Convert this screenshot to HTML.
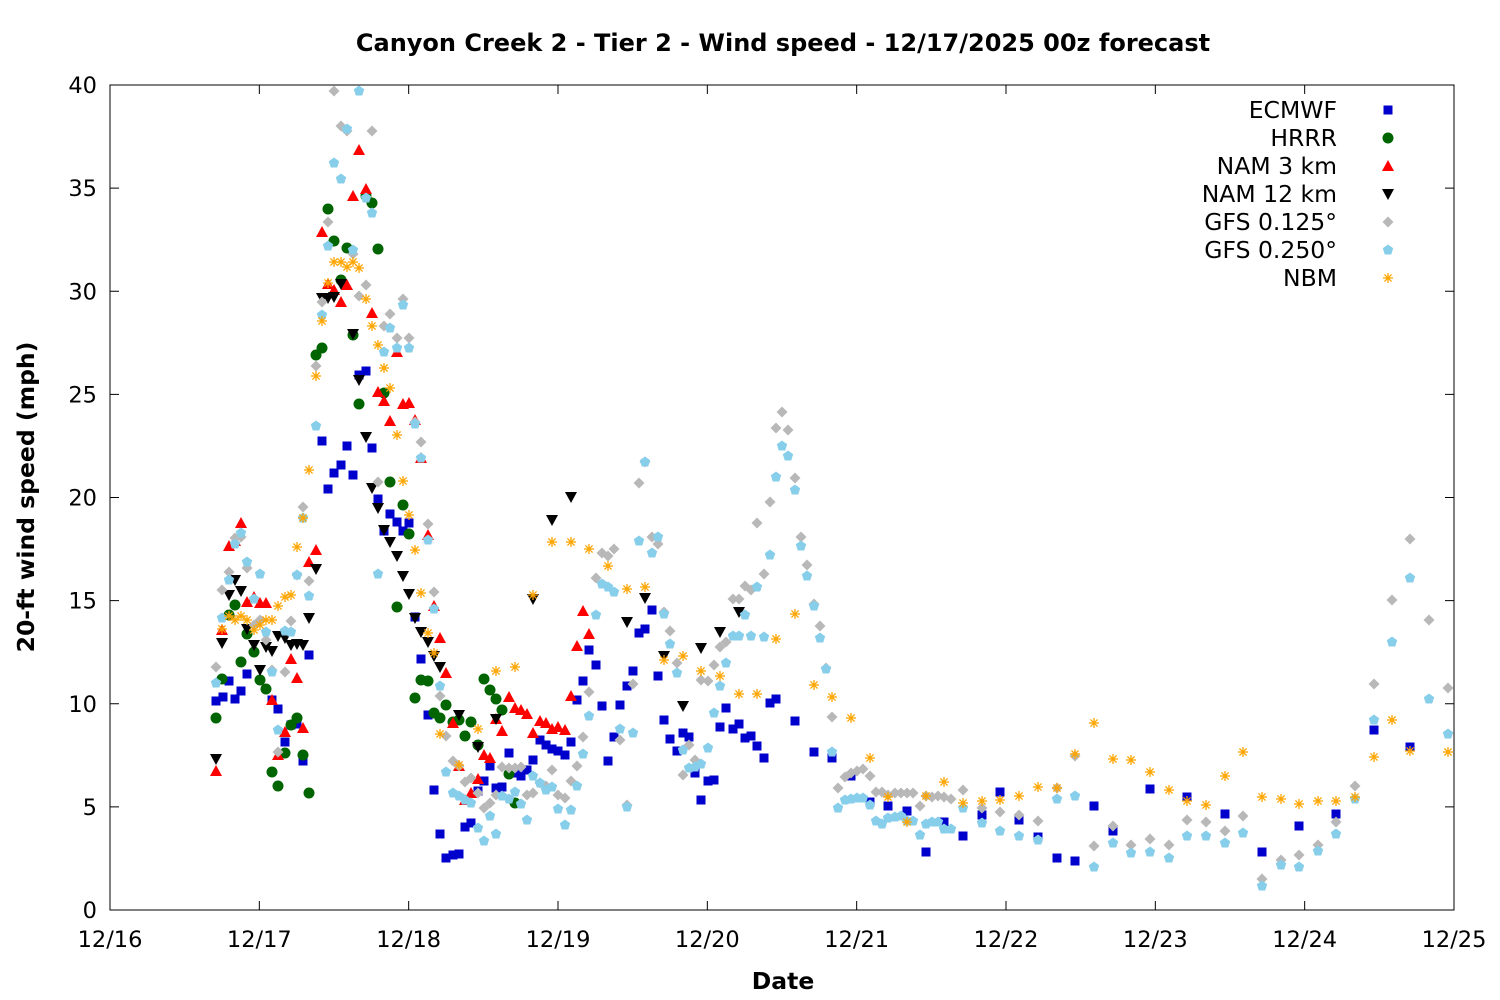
<!DOCTYPE html>
<html><head><meta charset="utf-8"><style>
html,body{margin:0;padding:0;background:#fff;}
svg{display:block;font-family:"DejaVu Sans","Liberation Sans",sans-serif;}
</style></head><body>
<svg id="s" width="1500" height="1000" xmlns="http://www.w3.org/2000/svg">
<rect width="1500" height="1000" fill="#fff"/>
<text x="783" y="51" text-anchor="middle" font-size="24" font-weight="bold">Canyon Creek 2 - Tier 2 - Wind speed - 12/17/2025 00z forecast</text>
<text x="783" y="989" text-anchor="middle" font-size="23.5" font-weight="bold">Date</text>
<text transform="translate(34,497) rotate(-90)" text-anchor="middle" font-size="23.5" font-weight="bold">20-ft wind speed (mph)</text>
<g id="ax"></g>
<g id="pts"></g>
<g id="leg" font-size="23.5" text-anchor="end"></g>
<rect x="110" y="85" width="1344" height="825" fill="none" stroke="#000" stroke-width="1"/>
</svg>
<script>
var NS="http://www.w3.org/2000/svg";
function el(t,a,p,txt){var e=document.createElementNS(NS,t);for(var k in a)e.setAttribute(k,a[k]);if(txt!=null)e.textContent=txt;p.appendChild(e);return e;}
var ax=document.getElementById('ax');
for(var v=0;v<=40;v+=5){var y=910-v*20.625;
el('line',{x1:110,y1:y,x2:119,y2:y,stroke:'#000'},ax);el('line',{x1:1445,y1:y,x2:1454,y2:y,stroke:'#000'},ax);
el('text',{x:97,y:y+8,'text-anchor':'end','font-size':22.5},ax,v);}
var days=['12/16','12/17','12/18','12/19','12/20','12/21','12/22','12/23','12/24','12/25'];
for(var i=0;i<10;i++){var x=110+i*149.333;
el('line',{x1:x,y1:910,x2:x,y2:901,stroke:'#000'},ax);el('line',{x1:x,y1:85,x2:x,y2:94,stroke:'#000'},ax);
el('text',{x:x,y:947,'text-anchor':'middle','font-size':22.5},ax,days[i]);}
function P(s){return s.trim().split(/\)\s*,\s*\(/).map(function(q){q=q.replace(/[()]/g,'').split(',');return [+q[0],+q[1]];});}
var D={
ec:P("(216,701),(223,697),(229,681),(235,699),(241,691),(247,674),(272,700),(278,709),(285,742),(291,725),(297,724),(303,761),(309,655),(322,441),(328,489),(334,473),(341,465),(347,446),(353,475),(359,375),(366,371),(372,448),(378,499),(384,531),(390,514),(397,522),(403,531),(409,523),(415,617),(421,659),(428,715),(434,790),(440,834),(446,858),(453,855),(459,854),(465,827),(471,823),(478,791),(484,781),(490,766),(496,788),(502,787),(509,753),(515,773),(521,776),(527,770),(533,760),(540,740),(546,745),(552,749),(558,751),(565,755),(571,742),(577,700),(583,681),(589,650),(596,665),(602,706),(608,761),(614,737),(620,705),(627,686),(633,671),(639,633),(645,629),(652,610),(658,676),(664,720),(670,739),(677,751),(683,733),(689,737),(695,773),(701,800),(708,781),(714,780),(720,727),(726,708),(733,729),(739,724),(745,738),(751,736),(757,746),(764,758),(770,703),(776,699),(795,721),(814,752),(832,758),(851,776),(870,802),(888,806),(907,811),(926,852),(944,822),(963,836),(982,815),(1000,792),(1019,820),(1038,837),(1057,858),(1075,861),(1094,806),(1113,831),(1150,789),(1187,797),(1225,814),(1262,852),(1299,826),(1336,814),(1374,730),(1410,747)"),
hr:P("(216,718),(222,679),(229,615),(235,605),(241,662),(247,634),(254,652),(260,680),(266,689),(272,772),(278,786),(285,753),(291,725),(297,718),(303,755),(309,793),(316,355),(322,348),(328,209),(334,241),(341,280),(347,248),(353,335),(359,404),(366,196),(372,203),(378,249),(384,393),(390,482),(397,607),(403,505),(409,534),(415,698),(421,680),(428,681),(434,713),(440,718),(446,705),(453,722),(459,720),(465,736),(471,722),(478,745),(484,679),(490,690),(496,699),(502,710),(509,774),(515,803)"),
n3:P("(216,771),(222,630),(229,546),(235,541),(241,523),(247,602),(254,597),(260,603),(266,603),(272,700),(278,755),(285,732),(291,659),(297,678),(303,728),(309,562),(316,550),(322,232),(328,284),(334,290),(341,302),(347,285),(353,196),(359,150),(366,189),(372,313),(378,392),(384,401),(390,421),(397,352),(403,404),(409,403),(415,420),(421,458),(428,535),(434,606),(440,638),(446,673),(453,723),(459,766),(465,800),(471,793),(478,779),(484,755),(490,758),(496,719),(502,731),(509,697),(515,708),(521,710),(527,714),(533,733),(540,721),(546,723),(552,729),(558,727),(565,730),(571,696),(577,646),(583,611),(589,634)"),
n12:P("(216,759),(222,643),(229,595),(235,580),(241,591),(247,629),(254,645),(260,670),(266,647),(272,651),(278,636),(285,638),(291,645),(297,644),(303,645),(309,618),(316,569),(322,298),(328,298),(334,297),(341,284),(353,334),(359,380),(366,437),(372,488),(378,508),(384,530),(390,542),(397,556),(403,576),(409,594),(415,618),(421,632),(428,642),(434,656),(440,667),(459,715),(478,747),(496,719),(533,599),(552,520),(571,497),(627,622),(645,598),(664,656),(683,706),(701,648),(720,632),(739,612)"),
g1:P("(216,667),(222,590),(229,572),(235,538),(241,537),(247,568),(254,625),(260,620),(266,640),(272,670),(278,752),(285,672),(291,621),(297,575),(303,507),(309,581),(316,366),(322,302),(328,222),(334,91),(341,126),(347,131),(353,254),(359,296),(366,285),(372,131),(378,482),(384,326),(390,314),(397,338),(403,299),(409,338),(415,422),(421,442),(428,524),(434,592),(440,696),(446,736),(453,761),(459,766),(465,782),(471,778),(478,793),(484,808),(490,803),(496,795),(502,767),(509,768),(515,768),(521,767),(527,795),(533,793),(540,783),(546,786),(552,770),(558,795),(565,798),(571,781),(577,766),(583,737),(589,692),(596,578),(602,553),(608,556),(614,549),(620,740),(627,805),(633,684),(639,483),(645,462),(652,537),(658,544),(664,612),(670,631),(677,663),(683,775),(689,745),(695,760),(701,680),(708,681),(714,665),(720,647),(726,642),(733,599),(739,599),(745,586),(751,590),(757,523),(764,574),(770,502),(776,428),(782,412),(788,430),(795,478),(801,537),(807,565),(814,604),(820,626),(826,668),(832,717),(838,788),(845,777),(851,773),(857,771),(863,769),(870,776),(876,792),(882,792),(888,795),(895,793),(901,793),(907,793),(913,793),(920,806),(926,796),(932,797),(938,796),(944,797),(951,799),(963,790),(982,808),(1000,812),(1019,815),(1038,821),(1057,788),(1075,756),(1094,846),(1113,826),(1131,845),(1150,839),(1169,845),(1187,820),(1206,822),(1225,831),(1243,816),(1262,879),(1281,860),(1299,855),(1318,845),(1336,822),(1355,786),(1374,684),(1392,600),(1410,539),(1429,620),(1448,688)"),
g2:P("(216,683),(222,618),(229,580),(235,544),(241,533),(247,562),(254,599),(260,574),(266,632),(272,672),(278,730),(285,631),(291,632),(297,575),(303,518),(309,596),(316,426),(322,315),(328,246),(334,163),(341,179),(347,129),(353,250),(359,91),(366,198),(372,213),(378,574),(384,352),(390,328),(397,348),(403,305),(409,348),(415,424),(421,458),(428,540),(434,609),(440,686),(446,772),(453,793),(459,796),(465,800),(471,803),(478,828),(484,841),(490,816),(496,834),(502,796),(509,799),(515,792),(521,804),(527,820),(533,776),(540,783),(546,790),(552,787),(558,809),(565,825),(571,810),(577,786),(583,754),(589,716),(596,615),(602,584),(608,587),(614,592),(620,729),(627,807),(633,733),(639,541),(645,462),(652,553),(658,537),(664,614),(670,644),(677,673),(683,750),(689,768),(695,767),(701,764),(708,748),(714,713),(720,686),(726,663),(733,636),(739,636),(745,615),(751,636),(757,587),(764,637),(770,555),(776,477),(782,446),(788,456),(795,490),(801,546),(807,576),(814,606),(820,638),(826,669),(832,752),(838,808),(845,800),(851,799),(857,798),(863,798),(870,805),(876,821),(882,824),(888,818),(895,817),(901,816),(907,821),(913,821),(920,835),(926,824),(932,822),(938,822),(944,829),(951,829),(963,808),(982,823),(1000,831),(1019,836),(1038,840),(1057,799),(1075,796),(1094,867),(1113,843),(1131,853),(1150,852),(1169,858),(1187,836),(1206,836),(1225,843),(1243,833),(1262,886),(1281,865),(1299,867),(1318,851),(1336,834),(1355,799),(1374,720),(1392,642),(1410,578),(1429,699),(1448,734)"),
nb:P("(222,629),(229,616),(235,620),(241,616),(247,620),(254,630),(260,625),(266,620),(272,620),(278,606),(285,597),(291,595),(297,547),(303,518),(309,470),(316,376),(322,321),(328,283),(334,262),(341,262),(347,267),(353,262),(359,268),(366,299),(372,326),(378,345),(384,368),(390,388),(397,435),(403,481),(409,515),(415,550),(421,593),(428,633),(434,653),(440,734),(459,765),(478,729),(496,671),(515,667),(533,595),(552,542),(571,542),(589,549),(608,566),(627,589),(645,587),(664,660),(683,656),(701,671),(720,676),(739,694),(757,694),(776,639),(795,614),(814,685),(832,697),(851,718),(870,758),(888,797),(907,822),(926,796),(944,782),(963,803),(982,801),(1000,800),(1019,796),(1038,787),(1057,788),(1075,754),(1094,723),(1113,759),(1131,760),(1150,772),(1169,790),(1187,801),(1206,805),(1225,776),(1243,752),(1262,797),(1281,799),(1299,804),(1318,801),(1336,801),(1355,797),(1374,757),(1392,720),(1410,751),(1448,752)")
};
var g=document.getElementById('pts');
function mk(type,x,y,p){
 if(type=='sq')el('rect',{x:x-4.5,y:y-4.5,width:9,height:9,fill:'#0000cc'},p);
 else if(type=='ci')el('circle',{cx:x,cy:y,r:5.5,fill:'#006400'},p);
 else if(type=='tu')el('polygon',{points:(x)+','+(y-6)+' '+(x-6)+','+(y+5)+' '+(x+6)+','+(y+5),fill:'#ff0000'},p);
 else if(type=='td')el('polygon',{points:(x)+','+(y+6)+' '+(x-6)+','+(y-5)+' '+(x+6)+','+(y-5),fill:'#000'},p);
 else if(type=='di')el('polygon',{points:x+','+(y-5.5)+' '+(x+5.5)+','+y+' '+x+','+(y+5.5)+' '+(x-5.5)+','+y,fill:'#b8b8b8'},p);
 else if(type=='pe')el('polygon',{points:(x)+','+(y-5.5)+' '+(x+5.2)+','+(y-1.7)+' '+(x+3.2)+','+(y+4.5)+' '+(x-3.2)+','+(y+4.5)+' '+(x-5.2)+','+(y-1.7),fill:'#87ceeb'},p);
 else if(type=='as'){var c='#ffa500',w=1.3;
  el('line',{x1:x-5,y1:y,x2:x+5,y2:y,stroke:c,'stroke-width':w},p);
  el('line',{x1:x,y1:y-5,x2:x,y2:y+5,stroke:c,'stroke-width':w},p);
  el('line',{x1:x-3.6,y1:y-3.6,x2:x+3.6,y2:y+3.6,stroke:c,'stroke-width':w},p);
  el('line',{x1:x-3.6,y1:y+3.6,x2:x+3.6,y2:y-3.6,stroke:c,'stroke-width':w},p);}
}
var order=[['ec','sq'],['hr','ci'],['n3','tu'],['n12','td'],['g1','di'],['g2','pe'],['nb','as']];
order.forEach(function(o){D[o[0]].forEach(function(p){mk(o[1],p[0],p[1],g);});});
var names=['ECMWF','HRRR','NAM 3 km','NAM 12 km','GFS 0.125°','GFS 0.250°','NBM'];
var L=document.getElementById('leg');
order.forEach(function(o,i){var y=110+i*28;el('text',{x:1337,y:y+8},L,names[i]);mk(o[1],1388,y,L);});
</script>
</body></html>
